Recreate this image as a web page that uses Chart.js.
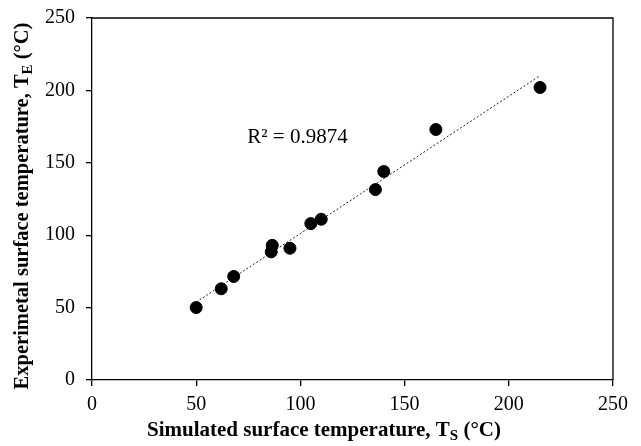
<!DOCTYPE html>
<html>
<head>
<meta charset="utf-8">
<script src="https://cdn.jsdelivr.net/npm/chart.js@4.4.1/dist/chart.umd.min.js"></script>
<style>
  html, body { margin: 0; padding: 0; background: #fff; }
  #wrap { width: 641px; height: 446px; }
</style>
</head>
<body>
<div id="wrap"><canvas id="chart" width="641" height="446"></canvas></div>
<script>
// simulated (x) vs experimental (y) surface temperature, °C
const simulatedT = [50, 62, 68, 86, 86.5, 95, 105, 110, 136, 140, 165, 215];
const experimentalT = [50, 63, 71.5, 88.5, 93, 91, 108, 111, 131.5, 144, 173, 202];
const axisTicks = [0, 50, 100, 150, 200, 250];
const r2Label = 'R² = 0.9874';

const points = simulatedT.map((x, i) => ({ x: x, y: experimentalT[i] }));

// least squares line through the points, drawn over the data range
const n = simulatedT.length;
const mx = simulatedT.reduce((a, b) => a + b, 0) / n;
const my = experimentalT.reduce((a, b) => a + b, 0) / n;
let sxy = 0, sxx = 0;
simulatedT.forEach((x, i) => {
    sxy += (x - mx) * (experimentalT[i] - my);
    sxx += (x - mx) * (x - mx);
});
const slope = sxy / sxx;
const icept = my - slope * mx;
const xMin = Math.min(...simulatedT), xMax = Math.max(...simulatedT);
const trend = [
    { x: xMin, y: icept + slope * xMin },
    { x: xMax, y: icept + slope * xMax }
];

const serif = "'Liberation Serif', 'Times New Roman', serif";

// draws text with one subscript part: [before, sub, after]
function subText(ctx, parts, cx, y, size) {
    const main = 'bold ' + size + 'px ' + serif;
    const small = 'bold ' + Math.round(size * 0.72) + 'px ' + serif;
    ctx.font = main;
    const w1 = ctx.measureText(parts[0]).width;
    const w3 = ctx.measureText(parts[2]).width;
    ctx.font = small;
    const w2 = ctx.measureText(parts[1]).width;
    let x = cx - (w1 + w2 + w3) / 2;
    ctx.textAlign = 'left';
    ctx.textBaseline = 'alphabetic';
    ctx.font = main;
    ctx.fillText(parts[0], x, y);
    x += w1;
    ctx.font = small;
    ctx.fillText(parts[1], x, y + size * 0.2);
    x += w2;
    ctx.font = main;
    ctx.fillText(parts[2], x, y);
}

const extras = {
    id: 'extras',
    afterDraw(chart) {
        const ctx = chart.ctx;
        const a = chart.chartArea;
        const xs = chart.scales.x, ys = chart.scales.y;
        ctx.save();
        ctx.strokeStyle = '#000';
        ctx.lineWidth = 1.3;
        ctx.beginPath();
        ctx.moveTo(a.left, a.top);
        ctx.lineTo(a.right, a.top);
        ctx.lineTo(a.right, a.bottom);
        ctx.stroke();

        ctx.fillStyle = '#000';
        ctx.font = '21px ' + serif;
        ctx.textAlign = 'left';
        ctx.textBaseline = 'alphabetic';
        ctx.fillText(r2Label, xs.getPixelForValue(74.5), ys.getPixelForValue(164));

        subText(ctx, ['Simulated surface temperature, T', 'S', ' (°C)'], 324, 436, 21);

        ctx.translate(28, (a.top + a.bottom) / 2 + 7);
        ctx.rotate(-Math.PI / 2);
        subText(ctx, ['Experimetal surface temperature, T', 'E', ' (°C)'], 0, 0, 20.5);
        ctx.restore();
    }
};

new Chart(document.getElementById('chart'), {
    type: 'scatter',
    data: {
        datasets: [{
            data: points,
            backgroundColor: '#000',
            borderColor: '#000',
            pointRadius: 6,
            pointHoverRadius: 6
        }, {
            type: 'line',
            data: trend,
            borderColor: '#222',
            borderWidth: 1,
            borderDash: [2, 2],
            pointRadius: 0,
            fill: false
        }]
    },
    options: {
        responsive: false,
        animation: false,
        layout: { padding: { top: 18, right: 28, left: 0, bottom: 0 } },
        plugins: {
            legend: { display: false },
            tooltip: { enabled: false }
        },
        scales: {
            x: {
                type: 'linear',
                min: 0,
                max: 250,
                afterFit(scale) {
                    scale.height = 66;
                    scale.paddingLeft = 0;
                    scale.paddingRight = 0;
                },
                afterBuildTicks(scale) { scale.ticks = axisTicks.map(v => ({ value: v })); },
                grid: { drawOnChartArea: false, color: '#000', tickLength: 6, lineWidth: 1.3 },
                border: { color: '#000', width: 1.3 },
                ticks: { color: '#000', padding: 7, maxRotation: 0, font: { family: serif, size: 20 } }
            },
            y: {
                type: 'linear',
                min: 0,
                max: 250,
                afterFit(scale) {
                    scale.width = 92;
                    scale.paddingTop = 0;
                    scale.paddingBottom = 0;
                },
                afterBuildTicks(scale) { scale.ticks = axisTicks.map(v => ({ value: v })); },
                grid: { drawOnChartArea: false, color: '#000', tickLength: 6, lineWidth: 1.3 },
                border: { color: '#000', width: 1.3 },
                ticks: { color: '#000', padding: 11, font: { family: serif, size: 20 } }
            }
        }
    },
    plugins: [extras]
});
</script>
</body>
</html>
